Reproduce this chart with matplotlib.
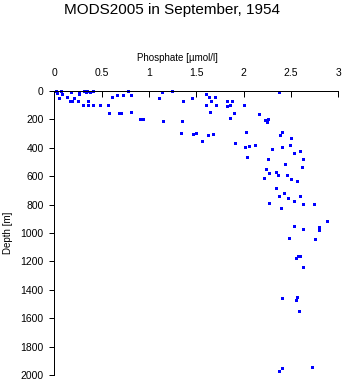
import matplotlib
matplotlib.use("Agg")
import matplotlib.pyplot as plt

plt.rcParams["font.family"] = ["Liberation Sans", "DejaVu Sans"]

TITLE = "MODS2005 in September, 1954"
XLABEL = "Phosphate [\u00b5mol/l]"
YLABEL = "Depth [m]"

# phosphate (umol/l) and depth (m) of each sample
phosphate = [
    0.02, 0.03, 0.05, 0.07, 0.08, 0.13, 0.18, 0.17, 0.19, 0.21,
    0.25, 0.26, 0.26, 0.30, 0.31, 0.35, 0.34, 0.38, 0.36, 0.36,
    0.41, 0.41, 0.48, 0.57, 0.58, 0.61, 0.66, 0.68, 0.70, 0.73,
    0.78, 0.81, 0.81, 0.90, 0.92, 0.94, 1.11, 1.14, 1.15, 1.24,
    1.35, 1.34, 1.36, 1.45, 1.60, 1.63, 1.70, 1.66, 1.60, 1.71,
    1.64, 1.82, 1.88, 1.82, 1.86, 2.00, 1.90, 1.86, 2.16, 2.23,
    2.26, 2.25, 2.37, 1.47, 1.50, 1.56, 1.62, 1.68, 1.91, 2.03,
    2.01, 2.06, 2.12, 2.04, 2.38, 2.41, 2.50, 2.30, 2.41, 2.49,
    2.53, 2.60, 2.26, 2.44, 2.63, 2.62, 2.24, 2.27, 2.34, 2.36,
    2.46, 2.50, 2.22, 2.56, 2.34, 2.43, 2.37, 2.47, 2.60, 2.53,
    2.27, 2.63, 2.74, 2.39, 2.88, 2.53, 2.63, 2.80, 2.80, 2.48,
    2.75, 2.57, 2.60, 2.55, 2.63, 2.41, 2.56, 2.55, 2.59, 2.41,
    2.37, 2.72,
]
depth = [
    0, 12, 47, 0, 21, 44, 9, 73, 73, 49,
    73, 23, 7, 96, 0, 0, 7, 9, 73, 96,
    0, 96, 96, 96, 157, 44, 26, 157, 157, 26,
    0, 26, 150, 199, 199, 199, 47, 9, 213, 0,
    213, 294, 73, 47, 23, 44, 44, 73, 96, 101,
    148, 73, 68, 108, 101, 101, 155, 192, 164, 206,
    197, 220, 9, 303, 298, 352, 312, 301, 368, 289,
    394, 387, 382, 467, 312, 289, 333, 411, 396, 382,
    439, 425, 481, 514, 481, 533, 551, 580, 573, 594,
    589, 618, 611, 636, 685, 720, 739, 751, 742, 777,
    787, 796, 798, 822, 918, 949, 972, 960, 977, 1033,
    1044, 1164, 1164, 1176, 1239, 1460, 1453, 1472, 1547, 1953,
    1970, 1946,
]

W, H = 345, 384
fig = plt.figure(figsize=(W / 100, H / 100), dpi=100)
ax = fig.add_axes([54.3 / W, 1 - 375 / H, (338.3 - 54.3) / W, (375 - 91) / H])

ax.plot(phosphate, depth, linestyle="none", marker="s", ms=2.16, mew=0,
        color="#0000ff", clip_on=False, antialiased=False)

ax.set_xlim(0, 3)
ax.set_ylim(2000, 0)
ax.set_xticks([0, 0.5, 1, 1.5, 2, 2.5, 3])
ax.set_xticklabels(["0", "0.5", "1", "1.5", "2", "2.5", "3"])
ax.set_yticks(range(0, 2001, 200))

ax.xaxis.tick_top()
ax.tick_params(axis="x", direction="in", length=4, width=0.72, pad=9,
               labelsize=7.5)
ax.tick_params(axis="y", direction="out", length=3.6, width=0.72, pad=4,
               labelsize=7.5)
for side in ("bottom", "right"):
    ax.spines[side].set_visible(False)
for side in ("top", "left"):
    ax.spines[side].set_linewidth(0.72)

fig.text(172.5 / W, 1 - 10 / H, TITLE, ha="center", va="center", fontsize=11)
fig.text(177 / W, 1 - 58 / H, XLABEL, ha="center", va="center", fontsize=7)
fig.text(8 / W, 1 - 233 / H, YLABEL, ha="center", va="center", fontsize=7,
         rotation=90)

fig.savefig("out.png", dpi=100)
